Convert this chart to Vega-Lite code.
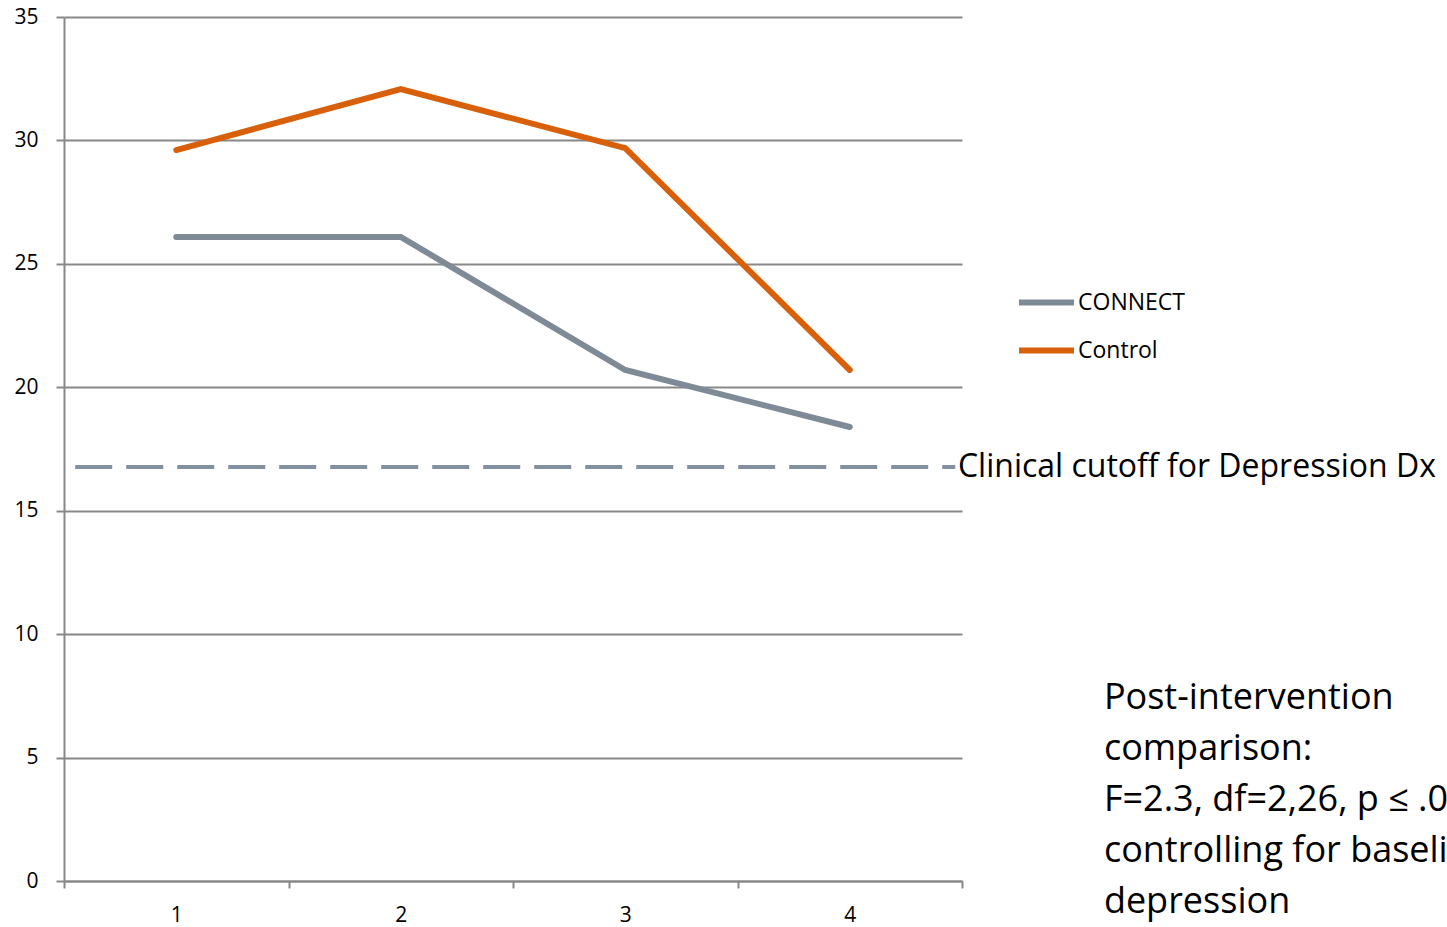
{
  "$schema": "https://vega.github.io/schema/vega-lite/v6.json",
  "width": 898,
  "height": 864,
  "autosize": {"type": "none"},
  "padding": {"left": 64, "top": 17, "right": 485, "bottom": 46},
  "background": "white",
  "config": {
    "view": {"stroke": null},
    "font": "Open Sans",
    "axis": {
      "gridColor": "#888888", "gridWidth": 2, "gridOpacity": 1,
      "domainColor": "#888888", "domainWidth": 2,
      "tickColor": "#888888", "tickWidth": 2,
      "labelFont": "Open Sans", "labelFontSize": 21, "labelColor": "#000000",
      "title": null
    }
  },
  "datasets": {
    "series": [
      {"time": 1, "group": "CONNECT", "score": 26.09},
      {"time": 2, "group": "CONNECT", "score": 26.09},
      {"time": 3, "group": "CONNECT", "score": 20.70},
      {"time": 4, "group": "CONNECT", "score": 18.39},
      {"time": 1, "group": "Control", "score": 29.61},
      {"time": 2, "group": "Control", "score": 32.08},
      {"time": 3, "group": "Control", "score": 29.69},
      {"time": 4, "group": "Control", "score": 20.70}
    ],
    "cutoff": [
      {"start": 0.55, "end": 4.47, "score": 16.77, "labelx": 4.482, "label": "Clinical cutoff for Depression Dx"}
    ],
    "note": [
      {"x": 5.132, "y": 8.12, "text": "Post-intervention\ncomparison:\nF=2.3, df=2,26, p ≤ .05\ncontrolling for baseline\ndepression"}
    ]
  },
  "layer": [
    {
      "data": {"name": "series"},
      "mark": {"type": "line", "strokeWidth": 6, "strokeCap": "round", "strokeJoin": "miter"},
      "encoding": {
        "x": {
          "field": "time", "type": "quantitative",
          "scale": {"domain": [0.5, 4.5], "nice": false, "zero": false},
          "axis": {
            "values": [0.5, 1, 1.5, 2, 2.5, 3, 3.5, 4, 4.5],
            "labelExpr": "datum.value % 1 === 0 ? format(datum.value, 'd') : ''",
            "tickSize": 7,
            "tickOpacity": {"condition": {"test": "datum.value % 1 === 0", "value": 0}, "value": 1},
            "grid": false,
            "labelPadding": 16,
            "labelFlush": false,
            "labelOverlap": false
          }
        },
        "y": {
          "field": "score", "type": "quantitative",
          "scale": {"domain": [0, 35], "nice": false},
          "axis": {"values": [0, 5, 10, 15, 20, 25, 30, 35], "grid": true, "tickSize": 8, "labelPadding": 18}
        },
        "color": {
          "field": "group", "type": "nominal",
          "scale": {"domain": ["CONNECT", "Control"], "range": ["#7f8a97", "#d9600b"]},
          "legend": {
            "orient": "none", "legendX": 952, "legendY": 255,
            "title": null,
            "symbolType": "stroke", "symbolSize": 3025, "symbolStrokeWidth": 6,
            "labelFont": "Open Sans", "labelFontSize": 23, "labelColor": "#000000",
            "labelOffset": 1, "rowPadding": 5
          }
        }
      }
    },
    {
      "data": {"name": "cutoff"},
      "mark": {"type": "rule", "strokeWidth": 4, "strokeDash": [37, 14], "color": "#8390a0"},
      "encoding": {
        "x": {"field": "start", "type": "quantitative"},
        "x2": {"field": "end"},
        "y": {"field": "score", "type": "quantitative"}
      }
    },
    {
      "data": {"name": "cutoff"},
      "mark": {"type": "text", "align": "left", "baseline": "middle", "fontSize": 32, "font": "Open Sans", "color": "#000000"},
      "encoding": {
        "x": {"field": "labelx", "type": "quantitative"},
        "y": {"field": "score", "type": "quantitative"},
        "text": {"field": "label"}
      }
    },
    {
      "data": {"name": "note"},
      "mark": {"type": "text", "align": "left", "baseline": "top", "fontSize": 36, "font": "Open Sans", "color": "#000000", "lineBreak": "\n", "lineHeight": 51},
      "encoding": {
        "x": {"field": "x", "type": "quantitative"},
        "y": {"field": "y", "type": "quantitative"},
        "text": {"field": "text"}
      }
    }
  ]
}
